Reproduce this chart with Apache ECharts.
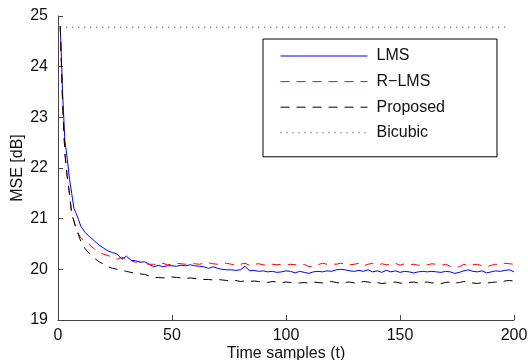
<!DOCTYPE html>
<html><head><meta charset="utf-8">
<script src="https://cdn.jsdelivr.net/npm/echarts@6/dist/echarts.min.js"></script>
<style>html,body{margin:0;padding:0;background:#fff}#c{width:528px;height:360px}</style>
</head><body><div id="c"></div>
<script>
var timeSamples = [1,2,3,4,5,6,7,8,9,10,
12,14,16,18,20,22,24,26,28,30,32,34,36,38,40,42,44,46,48,50,
52,54,56,58,60,62,64,66,68,70,72,74,76,78,80,82,84,86,88,90,
92,94,96,98,100,102,104,106,108,110,112,114,116,118,120,122,124,126,128,130,
132,134,136,138,140,142,144,146,148,150,152,154,156,158,160,162,164,166,168,170,
172,174,176,178,180,182,184,186,188,190,192,194,196,198,200];

var lms = [24.8,23.5,22.55,22.2,21.8,21.5,21.2,21.1,20.98,20.85,
20.72,20.64,20.56,20.48,20.42,20.36,20.33,20.3,20.2,20.26,20.18,20.17,20.14,20.15,20.1,20.05,20.08,20.05,20.07,20.07,
20.06,20.08,20.07,20.09,20.07,20.06,20.05,20.02,20.05,20.02,20.0,19.99,19.99,19.98,19.99,20.06,19.97,19.98,19.96,19.97,
19.95,19.96,19.94,19.95,19.97,19.96,19.93,19.96,19.94,19.92,19.95,19.96,19.95,19.97,19.96,19.99,20.0,19.99,19.97,19.96,
19.98,19.96,19.99,19.95,19.97,19.94,19.98,19.95,19.97,19.94,19.96,19.95,19.93,19.95,19.96,19.95,19.96,19.95,19.94,19.96,
19.95,19.92,19.94,19.97,19.99,19.96,19.95,19.97,19.93,19.95,19.97,19.96,19.98,19.99,19.95];

var rlms = [24.8,23.3,22.3,21.85,21.5,21.1,20.95,20.8,20.7,20.62,
20.55,20.48,20.4,20.33,20.3,20.27,20.24,20.2,20.24,20.2,20.17,20.14,20.16,20.12,20.1,20.1,20.08,20.12,20.09,20.1,
20.12,20.11,20.1,20.12,20.11,20.1,20.12,20.13,20.11,20.1,20.12,20.12,20.1,20.09,20.1,20.12,20.08,20.1,20.11,20.09,
20.08,20.1,20.09,20.1,20.08,20.1,20.09,20.08,20.1,20.05,20.07,20.09,20.12,20.1,20.11,20.1,20.12,20.11,20.09,20.1,
20.12,20.07,20.1,20.12,20.08,20.11,20.09,20.1,20.12,20.08,20.11,20.09,20.1,20.08,20.1,20.09,20.11,20.1,20.08,20.1,
20.06,20.03,20.05,20.1,20.08,20.09,20.1,20.07,20.05,20.08,20.1,20.09,20.12,20.11,20.1];

var proposed = [24.8,23.3,22.3,21.85,21.5,21.1,20.95,20.8,20.68,20.55,
20.4,20.3,20.22,20.15,20.1,20.05,20.02,20.0,19.98,19.96,19.94,19.92,19.91,19.9,19.87,19.84,19.84,19.83,19.84,19.85,
19.84,19.83,19.82,19.83,19.82,19.81,19.8,19.8,19.79,19.8,19.79,19.78,19.77,19.78,19.76,19.77,19.76,19.77,19.76,19.75,
19.74,19.76,19.75,19.74,19.75,19.74,19.75,19.73,19.74,19.73,19.75,19.74,19.73,19.75,19.76,19.74,19.73,19.74,19.75,19.73,
19.74,19.76,19.75,19.73,19.74,19.72,19.73,19.74,19.75,19.73,19.72,19.74,19.75,19.73,19.74,19.75,19.73,19.74,19.72,19.74,
19.75,19.73,19.74,19.76,19.75,19.73,19.72,19.74,19.73,19.74,19.75,19.74,19.77,19.78,19.77];

var bicubicT = [1, 197];
var bicubic = [24.78, 24.78];

var xTicks = [0, 50, 100, 150, 200];
var yTicks = [19, 20, 21, 22, 23, 24, 25];

function pairs(xs, ys){ return xs.map(function(x,i){ return [x, ys[i]]; }); }

var font = 'Liberation Sans, Arial, Helvetica, sans-serif';
var chart = echarts.init(document.getElementById('c'), null, {renderer:'canvas'});
chart.setOption({
  animation: false,
  backgroundColor: '#fff',
  grid: {left: 58, right: 14, top: 16, bottom: 40, containLabel: false, outerBoundsMode: 'none'},
  xAxis: {
    type: 'value', min: xTicks[0], max: xTicks[xTicks.length-1], interval: 50,
    name: 'Time samples (t)', nameLocation: 'middle', nameGap: 26, nameMoveOverlap: false,
    nameTextStyle: {fontFamily: font, fontSize: 16, color: '#111'},
    axisLine: {lineStyle: {color: '#444', width: 1}},
    axisTick: {inside: true, length: 5, lineStyle: {color: '#444'}},
    axisLabel: {fontFamily: font, fontSize: 16, color: '#111', margin: 8},
    splitLine: {show: false}
  },
  yAxis: {
    type: 'value', min: yTicks[0], max: yTicks[yTicks.length-1], interval: 1,
    name: 'MSE [dB]', nameLocation: 'middle', nameGap: 32, nameRotate: 90, nameMoveOverlap: false,
    nameTextStyle: {fontFamily: font, fontSize: 16, color: '#111'},
    axisLine: {show: true, lineStyle: {color: '#444', width: 1}},
    axisTick: {show: true, inside: true, length: 5, lineStyle: {color: '#444'}},
    axisLabel: {fontFamily: font, fontSize: 16, color: '#111', margin: 10},
    splitLine: {show: false}
  },
  legend: {
    orient: 'vertical', left: 263, top: 39,
    padding: [9, 52, 16, 17],
    itemWidth: 87, itemHeight: 14, itemGap: 9.6,
    borderColor: '#000', borderWidth: 1, backgroundColor: '#fff',
    itemStyle: {opacity: 0},
    lineStyle: {width: 1},
    textStyle: {fontFamily: font, fontSize: 16, color: '#111', padding: [0,0,0,4]},
    data: ['LMS', 'R\u2212LMS', 'Proposed', 'Bicubic']
  },
  series: [
    {name: 'LMS', type: 'line', data: pairs(timeSamples, lms), symbol: 'none',
     lineStyle: {color: '#0000ff', width: 1}, itemStyle: {color: '#0000ff'}},
    {name: 'R\u2212LMS', type: 'line', data: pairs(timeSamples, rlms), symbol: 'none',
     lineStyle: {color: '#ff0000', width: 1, type: [9, 7]}, itemStyle: {color: '#ff0000'}},
    {name: 'Proposed', type: 'line', data: pairs(timeSamples, proposed), symbol: 'none',
     lineStyle: {color: '#000000', width: 1, type: [9, 7]}, itemStyle: {color: '#000000'}},
    {name: 'Bicubic', type: 'line', data: pairs(bicubicT, bicubic), symbol: 'none',
     lineStyle: {color: '#222', width: 1, type: [1, 5]}, itemStyle: {color: '#222'}}
  ]
});
</script></body></html>
